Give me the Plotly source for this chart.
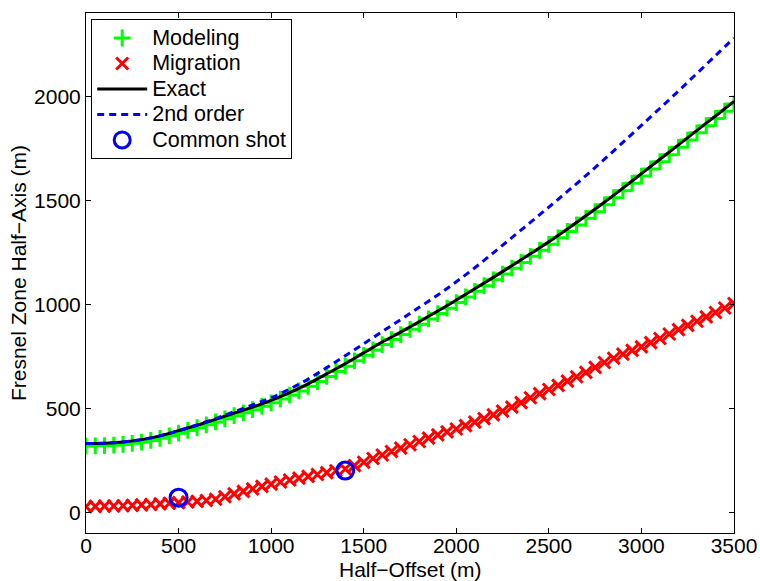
import numpy as np
import plotly.graph_objects as go

# Half-offset positions (m)
x_markers = list(range(0, 3501, 50))
x_lines = list(range(0, 3501, 100))

modeling = [318, 319, 320, 322, 326, 331, 337, 345, 355, 367,
            380, 393, 406, 420, 434, 449, 464, 478, 493, 509,
            526, 544, 563, 583, 605, 628, 653, 677, 702, 728,
            754, 780, 806, 830, 854, 879, 904, 929, 955, 981,
            1008, 1035, 1062, 1089, 1117, 1145, 1173, 1201, 1230, 1259,
            1288, 1319, 1350, 1381, 1413, 1445, 1478, 1512, 1546, 1581,
            1616, 1650, 1685, 1719, 1754, 1789, 1824, 1858, 1893, 1928,
            1963]

migration = [27, 28, 29, 30, 31, 33, 35, 37, 40, 43,
             46, 49, 52, 56, 62, 74, 88, 100, 112, 124,
             135, 145, 155, 164, 172, 181, 190, 199, 208, 224,
             240, 258, 275, 292, 308, 324, 340, 356, 372, 386,
             400, 416, 433, 450, 468, 486, 505, 527, 550, 570,
             590, 610, 630, 651, 672, 696, 720, 740, 760, 778,
             795, 815, 835, 857, 878, 898, 918, 939, 960, 982,
             1003]

exact = [330, 332, 338, 349, 367, 392, 418, 446, 476, 505,
         538, 575, 617, 665, 714, 766, 818, 866, 916, 967,
         1020, 1074, 1129, 1185, 1242, 1300, 1362, 1425, 1490, 1558,
         1628, 1697, 1766, 1836, 1905, 1975]

second_order = [330, 332, 338, 349, 367, 392, 420, 450, 483, 516,
                550, 592, 640, 695, 752, 810, 868, 926, 985, 1044,
                1108, 1175, 1247, 1320, 1393, 1467, 1542, 1618, 1697, 1778,
                1860, 1942, 2025, 2110, 2195, 2280]

shot_x = [500, 1400]
shot_y = [70, 200]

x_ticks = [0, 500, 1000, 1500, 2000, 2500, 3000, 3500]
y_ticks = [0, 500, 1000, 1500, 2000]

FONT = "Liberation Sans, Arial, Helvetica, sans-serif"


def legend_name(text):
    return '<span style="font-size:21.5px">' + text + '</span>'


fig = go.Figure()
fig.add_trace(go.Scatter(x=x_markers, y=modeling, mode="markers", name=legend_name("Modeling"),
                         marker=dict(symbol="cross-thin", size=12, color="#00ff00",
                                     line=dict(color="#00ff00", width=3))))
fig.add_trace(go.Scatter(x=x_markers, y=migration, mode="markers", name=legend_name("Migration"),
                         marker=dict(symbol="x-thin", size=12, color="#ff0000",
                                     line=dict(color="#ff0000", width=3))))
fig.add_trace(go.Scatter(x=x_lines, y=exact, mode="lines", name=legend_name("Exact"),
                         line=dict(color="black", width=3, shape="spline")))
fig.add_trace(go.Scatter(x=x_lines, y=second_order, mode="lines", name=legend_name("2nd order"),
                         line=dict(color="#0000ff", width=3, dash="7px,5px", shape="spline")))
fig.add_trace(go.Scatter(x=shot_x, y=shot_y, mode="markers", name=legend_name("Common shot"),
                         marker=dict(symbol="circle-open", size=17, color="#0000ff",
                                     line=dict(color="#0000ff", width=3))))

axis_common = dict(showgrid=False, zeroline=False, showline=True, linecolor="black",
                   linewidth=1, mirror="ticks", ticks="inside", ticklen=5,
                   tickcolor="black", tickwidth=1,
                   tickfont=dict(family=FONT, size=21, color="black"),
                   automargin=False)

fig.update_xaxes(range=[0, 3500], tickvals=x_ticks, ticklabelstandoff=-6,
                 **axis_common)
fig.update_yaxes(range=[-100, 2400], tickvals=y_ticks,
                 title=dict(text="Fresnel Zone Half−Axis (m)", standoff=1,
                            font=dict(family=FONT, size=21, color="black")),
                 **axis_common)

fig.add_annotation(text="Half−Offset (m)", xref="paper", yref="paper",
                   x=0.5, y=0, yshift=-49, xanchor="center", yanchor="bottom",
                   showarrow=False, borderpad=0,
                   font=dict(family=FONT, size=21, color="black"))

fig.update_layout(width=760, height=581,
                  margin=dict(l=86, r=26, t=13, b=48),
                  paper_bgcolor="white", plot_bgcolor="white",
                  font=dict(family=FONT, size=21, color="black"),
                  legend=dict(x=0.008, y=0.988, xanchor="left", yanchor="top",
                              bgcolor="white", bordercolor="black", borderwidth=1,
                              font=dict(family=FONT, size=17.3, color="black"),
                              tracegroupgap=0, itemwidth=50))

fig.write_html("out.html")
